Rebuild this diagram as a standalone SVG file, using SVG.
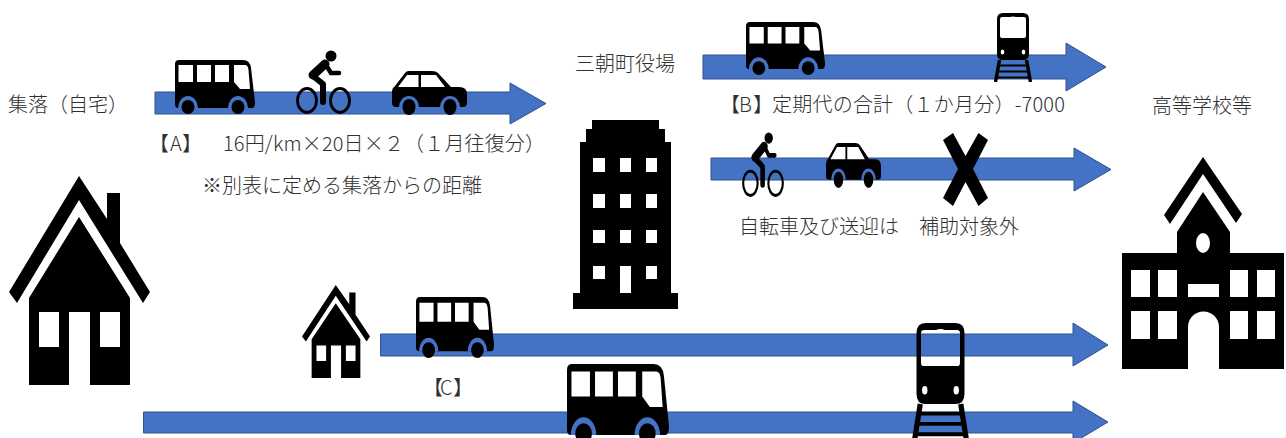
<svg xmlns="http://www.w3.org/2000/svg" width="1286" height="438" viewBox="0 0 1286 438">
<style>
.t{font-family:"Noto Sans CJK JP","Noto Sans",sans-serif;font-size:20px;fill:#303030;font-weight:300}
.a{fill:#4472C4;stroke:#2F528F;stroke-width:1}
.w{fill:#fff}
.b{fill:#4472C4}
</style>
<defs>
<symbol id="bus" viewBox="0 0 80 54" preserveAspectRatio="none">
<path d="M4,0H68Q75,0 76,8L80,42Q80,48 77,48H3Q0,48 0,44V4Q0,0 4,0Z"/>
<path class="w" d="M3.500,5H18V22H3.500ZM22,5H36V22H22ZM40,5H54V22H40ZM59,5H70Q73,5 73.500,10L75,29H65L59,22Z"/>
<path class="b" d="M3,48A10,12 0 0 1 23,48ZM53,48A10,12 0 0 1 73,48Z"/>
<ellipse cx="13" cy="47" rx="6.500" ry="7"/><ellipse cx="63" cy="47" rx="6.500" ry="7"/>
</symbol>
<symbol id="car" viewBox="392 71 75 44" preserveAspectRatio="none">
<path d="M392,92Q392,88 395,86L405,73Q406,71 409,71H432Q436,71 438,73L451,87H459Q467,87 467,94V103Q467,107 463,107H396Q392,107 392,103Z"/>
<path class="w" d="M398,87L407,75H418.500V87ZM421,75H436L445,87H421Z"/>
<path class="b" d="M399,107A10,11 0 0 1 419,107ZM440,107A10,11 0 0 1 460,107Z"/>
<ellipse cx="409" cy="107" rx="6.500" ry="8"/><ellipse cx="450" cy="107" rx="6.500" ry="8"/>
</symbol>
<symbol id="bike" viewBox="296 50 55 64" preserveAspectRatio="none">
<circle cx="331" cy="56" r="5.500"/>
<path d="M325,64L313,75" fill="none" stroke="#000" stroke-width="9" stroke-linecap="round"/>
<path d="M326,65L331,73H339" fill="none" stroke="#000" stroke-width="4.500" stroke-linecap="round"/>
<path d="M313,76L323,84V102" fill="none" stroke="#000" stroke-width="6" stroke-linecap="round" stroke-linejoin="round"/>
<ellipse cx="307" cy="100.500" rx="9.500" ry="12" fill="none" stroke="#000" stroke-width="2.800"/>
<ellipse cx="340" cy="100.500" rx="9.500" ry="12" fill="none" stroke="#000" stroke-width="2.800"/>
</symbol>
<symbol id="train" viewBox="0 0 38 69" preserveAspectRatio="none">
<path fill-rule="evenodd" d="M9,0H29Q35,0 35,6V41Q35,47 29,47H9Q3,47 3,41V6Q3,0 9,0ZM8,4Q6,4 6,6V23Q6,25 8,25H30Q32,25 32,23V6Q32,4 30,4H22Q19,3 16,4Z"/>
<ellipse class="w" cx="8.500" cy="39" rx="1.800" ry="2.500"/><ellipse class="w" cx="29.500" cy="39" rx="1.800" ry="2.500"/>
<path d="M5.500,47L1.500,69M32.500,47L36.500,69" fill="none" stroke="#000" stroke-width="3.500"/>
<path d="M4,52.500H34M3,58.500H35M2,64.500H36" fill="none" stroke="#000" stroke-width="2.200"/>
</symbol>
<symbol id="house" viewBox="9 176 141 209" preserveAspectRatio="none">
<path d="M79,176L107,219V193H120V243L150,292L143,303L79,200L17,303L9,292Z"/>
<path d="M79,217L130,298V385H90V312H69V385H29V298ZM39,312V347H59V312ZM100,312V347H120V312Z" fill-rule="evenodd"/>
</symbol>
</defs>
<g id="connectors">
<path class="a" d="M155,92H510V83L546,103.500L510,124V114H155Z"/>
<path class="a" d="M703,55H1066V43L1106,67L1066,91V79H703Z"/>
<path class="a" d="M711,158H1074V148L1111,169.500L1074,191V180H711Z"/>
<path class="a" d="M380.500,334H1073V323L1108,345L1073,366V356H380.500Z"/>
<path class="a" d="M143.500,412H1073V401L1108,422L1073,443V433H143.500Z"/>
</g>
<g id="home"><text class="t" x="8" y="112">集落（自宅）</text><use href="#house" x="9" y="176" width="141" height="209"/></g>
<g id="route-a">
<use href="#bus" x="175" y="60" width="80" height="54"/>
<use href="#bike" x="296" y="50" width="55" height="64"/>
<use href="#car" x="392" y="71" width="75" height="44"/>
<text class="t" x="149 170 182" y="151">【A】</text>
<text class="t" x="223" y="151" textLength="322">16円/km×20日×２（１月往復分）</text>
<text class="t" x="202" y="193">※別表に定める集落からの距離</text>
</g>
<g id="town-hall">
<text class="t" x="575" y="71">三朝町役場</text>
<path fill-rule="evenodd" d="M592,120H659V129H665V142H671V293H678V309H573V293H580V142H586V129H592ZM593,158V172H605V158ZM620,158V172H631V158ZM646,158V172H657V158ZM593,194V208H605V194ZM620,194V208H631V194ZM646,194V208H657V194ZM593,230V243H605V230ZM620,230V243H631V230ZM646,230V243H657V230ZM593,266V279H605V266ZM620,266V293H631V266ZM646,266V279H657V266Z"/>
</g>
<g id="route-b">
<use href="#bus" x="746" y="22" width="79" height="53"/>
<use href="#train" x="994" y="13" width="38" height="69"/>
<text class="t" x="720 739 753" y="112">【B】</text>
<text class="t" x="772" y="112" textLength="293">定期代の合計（１か月分）-7000</text>
</g>
<g id="route-excluded">
<use href="#bike" x="742" y="132" width="42" height="65"/>
<use href="#car" x="826" y="143" width="55" height="45"/>
<polygon points="943,140 953,133 965.500,156 978.500,133 988,140 973,169 988,198 978.500,206 965.500,182 953,206 943,198 958,169"/>
<text class="t" x="739" y="234">自転車及び送迎は</text>
<text class="t" x="919" y="234">補助対象外</text>
</g>
<g id="school">
<text class="t" x="1152" y="113">高等学校等</text>
<path d="M1203,157L1242,214L1236,223L1203,174L1170,224L1164,215Z"/>
<path fill-rule="evenodd" d="M1203,192L1230,232V253H1284V369H1219V327A15.500,15.500 0 0 0 1188,327V369H1122V253H1177V232ZM1203,233A7,10 0 0 0 1203,253A7,10 0 0 0 1203,233ZM1131,270V297H1150V270ZM1158,270V297H1177V270ZM1230,270V297H1248V270ZM1257,270V297H1275V270ZM1188,284V297H1219V284ZM1131,311V339H1150V311ZM1158,311V339H1177V311ZM1230,311V339H1248V311ZM1257,311V339H1275V311Z"/>
</g>
<g id="route-c">
<use href="#house" x="302" y="285" width="68" height="93"/>
<use href="#bus" x="416" y="297" width="78" height="61"/>
<text class="t" x="423 440 453" y="395">【C】</text>
<use href="#bus" x="567" y="364" width="102" height="80"/>
<use href="#train" x="912" y="323" width="57" height="119"/>
</g>
</svg>
